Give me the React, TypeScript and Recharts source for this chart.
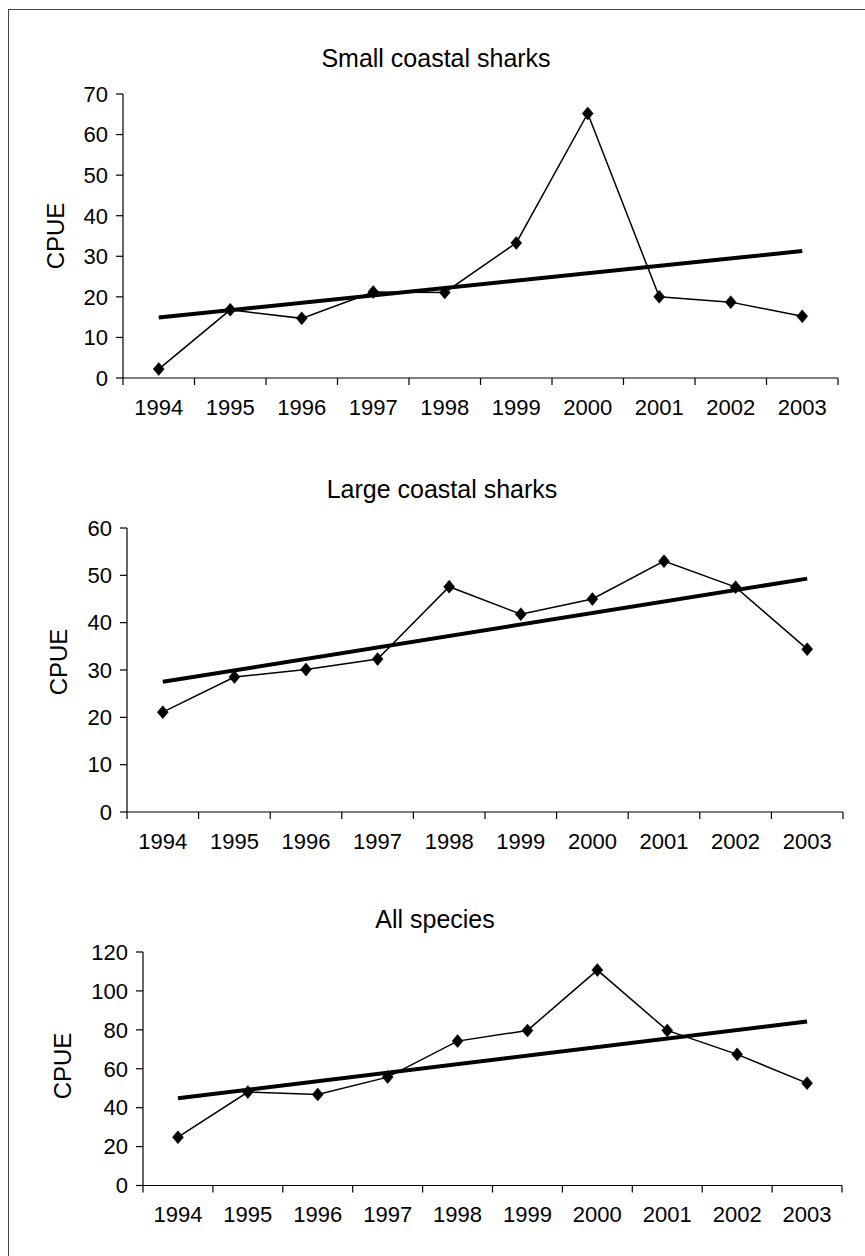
import React from 'react';
import { LineChart, Line, XAxis, YAxis } from 'recharts';

const years = ['1994', '1995', '1996', '1997', '1998', '1999', '2000', '2001', '2002', '2003'];

const smallValues = [2.2, 16.8, 14.7, 21.2, 21.1, 33.3, 65.2, 20.0, 18.7, 15.2];
const smallTrend = [14.9, 31.3];
const smallTicks = [0, 10, 20, 30, 40, 50, 60, 70];

const largeValues = [21.1, 28.5, 30.1, 32.3, 47.6, 41.8, 45.0, 53.0, 47.5, 34.4];
const largeTrend = [27.5, 49.3];
const largeTicks = [0, 10, 20, 30, 40, 50, 60];

const allValues = [24.8, 48.0, 46.8, 55.7, 74.2, 79.7, 110.7, 79.7, 67.4, 52.6];
const allTrend = [44.8, 84.3];
const allTicks = [0, 20, 40, 60, 80, 100, 120];

const xTicks = [0, 1, 2, 3, 4, 5, 6, 7, 8, 9, 10];

const FONT = "Arial, 'Liberation Sans', Helvetica, sans-serif";

function buildRows(values: number[], trend: number[]) {
  const last = values.length - 1;
  return values.map((v, i) => ({
    pos: i + 0.5,
    year: years[i],
    value: v,
    trend: i === 0 ? trend[0] : i === last ? trend[1] : null,
  }));
}

const Diamond = (props: any) => {
  const { cx, cy, index } = props;
  if (cx == null || cy == null) return <g key={`d-${index}`} />;
  const w = 5.5;
  const h = 6.5;
  return (
    <polygon
      key={`d-${index}`}
      points={`${cx},${cy - h} ${cx + w},${cy} ${cx},${cy + h} ${cx - w},${cy}`}
      fill="#000"
      stroke="#000"
      strokeWidth={0.5}
    />
  );
};

type PanelProps = {
  top: number;
  height: number;
  plotLeft: number;
  plotRight: number;
  plotTop: number;
  plotBottom: number;
  values: number[];
  trend: number[];
  ticks: number[];
};

function Panel({ top, height, plotLeft, plotRight, plotTop, plotBottom, values, trend, ticks }: PanelProps) {
  const W = 865;
  const xAxisH = 40;
  const band = (plotRight - plotLeft) / 10;
  const rows = buildRows(values, trend);
  const XTick = (p: any) => {
    const { x, y, payload } = p;
    if (payload.value >= 10) return <g />;
    return (
      <text
        x={x + band / 2}
        y={y}
        dy="0.71em"
        textAnchor="middle"
        fontSize={22}
        fontFamily={FONT}
        fill="#000"
      >
        {years[payload.value]}
      </text>
    );
  };
  return (
    <div style={{ position: 'absolute', left: 0, top }}>
      <LineChart
        width={W}
        height={height}
        data={rows}
        margin={{
          top: plotTop - top,
          right: W - plotRight,
          bottom: height - (plotBottom - top) - xAxisH,
          left: 0,
        }}
      >
        <XAxis
          type="number"
          dataKey="pos"
          domain={[0, 10]}
          ticks={xTicks}
          interval={0}
          height={xAxisH}
          tickSize={7}
          tickMargin={14}
          tick={XTick}
          axisLine={{ stroke: '#000', strokeWidth: 1.2 }}
          tickLine={{ stroke: '#000', strokeWidth: 1.2 }}
        />
        <YAxis
          type="number"
          domain={[0, ticks[ticks.length - 1]]}
          ticks={ticks}
          interval={0}
          width={plotLeft}
          tickSize={7}
          tickMargin={8}
          tick={{ fontSize: 22, fontFamily: FONT, fill: '#000' }}
          axisLine={{ stroke: '#000', strokeWidth: 1.2 }}
          tickLine={{ stroke: '#000', strokeWidth: 1.2 }}
        />
        <Line
          type="linear"
          dataKey="trend"
          stroke="#000"
          strokeWidth={4}
          dot={false}
          activeDot={false}
          connectNulls
          isAnimationActive={false}
        />
        <Line
          type="linear"
          dataKey="value"
          stroke="#000"
          strokeWidth={1.5}
          dot={Diamond}
          activeDot={false}
          isAnimationActive={false}
        />
      </LineChart>
    </div>
  );
}

export default function App() {
  return (
    <div
      style={{
        position: 'absolute',
        left: 0,
        top: 0,
        width: 865,
        height: 1256,
        overflow: 'hidden',
        background: '#fff',
        fontFamily: FONT,
      }}
    >
      <div
        style={{
          position: 'absolute',
          left: 8,
          top: 9,
          width: 1000,
          height: 1400,
          borderLeft: '1.5px solid #444',
          borderTop: '1.5px solid #444',
        }}
      />
      <Panel
        top={0}
        height={430}
        plotLeft={123}
        plotRight={838}
        plotTop={94}
        plotBottom={378}
        values={smallValues}
        trend={smallTrend}
        ticks={smallTicks}
      />
      <Panel
        top={430}
        height={430}
        plotLeft={127}
        plotRight={843}
        plotTop={528}
        plotBottom={812}
        values={largeValues}
        trend={largeTrend}
        ticks={largeTicks}
      />
      <Panel
        top={860}
        height={396}
        plotLeft={143}
        plotRight={842}
        plotTop={952}
        plotBottom={1185.5}
        values={allValues}
        trend={allTrend}
        ticks={allTicks}
      />
      <svg
        width={865}
        height={1256}
        style={{ position: 'absolute', left: 0, top: 0, pointerEvents: 'none' }}
      >
        <text x={436} y={66.5} textAnchor="middle" fontSize={25} fontFamily={FONT} fill="#000">
          Small coastal sharks
        </text>
        <text x={442} y={498} textAnchor="middle" fontSize={25} fontFamily={FONT} fill="#000">
          Large coastal sharks
        </text>
        <text x={435} y={928} textAnchor="middle" fontSize={25} fontFamily={FONT} fill="#000">
          All species
        </text>
        <text
          x={55}
          y={236}
          transform="rotate(-90 55 236)"
          textAnchor="middle"
          dominantBaseline="central"
          fontSize={24}
          fontFamily={FONT}
          fill="#000"
        >
          CPUE
        </text>
        <text
          x={58}
          y={662}
          transform="rotate(-90 58 662)"
          textAnchor="middle"
          dominantBaseline="central"
          fontSize={24}
          fontFamily={FONT}
          fill="#000"
        >
          CPUE
        </text>
        <text
          x={62}
          y={1066}
          transform="rotate(-90 62 1066)"
          textAnchor="middle"
          dominantBaseline="central"
          fontSize={24}
          fontFamily={FONT}
          fill="#000"
        >
          CPUE
        </text>
      </svg>
    </div>
  );
}
